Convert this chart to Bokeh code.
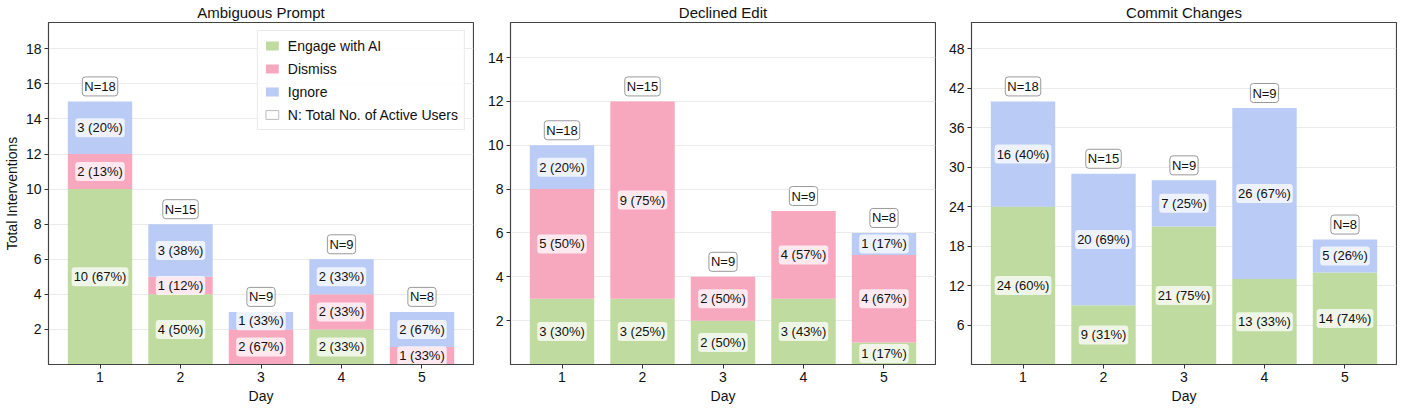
from bokeh.plotting import figure
from bokeh.layouts import row
from bokeh.models import ColumnDataSource, FixedTicker, Range1d
from bokeh.embed import file_html
from bokeh.resources import INLINE
from bokeh.core.properties import value

# ---------------- data ----------------
days = [1, 2, 3, 4, 5]
n_users = [18, 15, 9, 9, 8]

amb_engage = [10, 4, 0, 2, 0]
amb_dismiss = [2, 1, 2, 2, 1]
amb_ignore = [3, 3, 1, 2, 2]

dec_engage = [3, 3, 2, 3, 1]
dec_dismiss = [5, 9, 2, 4, 4]
dec_ignore = [2, 0, 0, 0, 1]

com_engage = [24, 9, 21, 13, 14]
com_dismiss = [0, 0, 0, 0, 0]
com_ignore = [16, 20, 7, 26, 5]

titles = ["Ambiguous Prompt", "Declined Edit", "Commit Changes"]
y_ticks_amb = [2, 4, 6, 8, 10, 12, 14, 16, 18]
y_ticks_dec = [2, 4, 6, 8, 10, 12, 14]
y_ticks_com = [6, 12, 18, 24, 30, 36, 42, 48]

series_names = ["Engage with AI", "Dismiss", "Ignore"]
n_legend = "N: Total No. of Active Users"

# ---------------- style ----------------
FONT = "Liberation Sans"
GREEN = "#bcd99a"
PINK = "#f7a3bc"
BLUE = "#b6c8f6"
COLORS = [GREEN, PINK, BLUE]
FW = 425
FH = 342


def make_panel(title, segs, ticks, left_border, first=False, legend=False):
    totals = [sum(v) for v in zip(*segs)]
    p = figure(frame_width=FW, frame_height=FH,
               x_range=Range1d(0.36, 5.64), y_range=Range1d(0, 1.3 * max(totals)),
               output_backend="svg", toolbar_location=None, title=title,
               min_border_left=left_border, min_border_right=1,
               min_border_top=0, min_border_bottom=0)
    p.title.align = "center"
    p.title.text_font = FONT
    p.title.text_font_size = "15px"
    p.title.text_font_style = "normal"
    p.title.text_color = "#111111"
    p.title.standoff = 3
    p.title.offset = 0

    p.xgrid.visible = False
    p.ygrid.grid_line_color = "#ebebeb"
    p.ygrid.grid_line_width = 1
    p.outline_line_color = "#444444"
    p.outline_line_width = 1.2
    p.outline_line_alpha = 1
    p.background_fill_color = "white"
    p.border_fill_color = "white"

    for ax in (p.xaxis[0], p.yaxis[0]):
        ax.axis_line_color = "#444444"
        ax.major_tick_line_color = "#333333"
        ax.major_tick_out = 4
        ax.major_tick_in = 0
        ax.minor_tick_line_color = None
        ax.major_label_text_font = FONT
        ax.major_label_text_font_size = "14px"
        ax.major_label_text_color = "#111111"
        ax.major_label_standoff = 3
        ax.axis_label_text_font = FONT
        ax.axis_label_text_font_size = "14px"
        ax.axis_label_text_font_style = "normal"
        ax.axis_label_text_color = "#111111"
        ax.axis_label_standoff = 3
    p.xaxis.ticker = FixedTicker(ticks=days)
    p.yaxis.ticker = FixedTicker(ticks=ticks)
    p.xaxis.axis_label = "Day"
    if first:
        p.yaxis.axis_label = "Total Interventions"

    bottoms = [0] * len(days)
    lab_x, lab_y, lab_t = [], [], []
    for vals, color, name in zip(segs, COLORS, series_names):
        tops = [b + v for b, v in zip(bottoms, vals)]
        kw = {"legend_label": name} if legend else {}
        if any(vals):
            p.vbar(x=days, bottom=bottoms, top=tops, width=0.8,
                   fill_color=color, fill_alpha=0.95, line_color=None, **kw)
        for d, b, v, t in zip(days, bottoms, vals, totals):
            if v > 0:
                lab_x.append(d)
                lab_y.append(b + v / 2)
                lab_t.append(f"{v} ({v / t * 100:.0f}%)")
        bottoms = tops

    if legend:
        # legend-only swatch placed below the visible range (clipped by frame)
        p.vbar(x=[days[0]], bottom=[-3], top=[-2], width=0.8, fill_color="white",
               line_color="#bbbbbb", line_width=1, legend_label=n_legend)

    src = ColumnDataSource(dict(x=lab_x, y=lab_y, t=lab_t))
    p.text(x="x", y="y", text="t", source=src, text_font=value(FONT),
           text_font_size="13px", text_color="#111111", text_align="center",
           text_baseline="middle", background_fill_color="white",
           background_fill_alpha=0.75, padding=2, border_radius=3)

    nsrc = ColumnDataSource(dict(x=days, y=totals, t=[f"N={n}" for n in n_users]))
    p.text(x="x", y="y", text="t", source=nsrc, text_font=value(FONT),
           text_font_size="13px", text_color="#111111", text_align="center",
           text_baseline="middle", y_offset=-15, background_fill_color="white",
           background_fill_alpha=1.0, border_line_color="#999999",
           border_line_width=1, padding=2, border_radius=3)

    if legend:
        lg = p.legend[0]
        lg.location = "top_right"
        lg.label_text_font = FONT
        lg.label_text_font_size = "14px"
        lg.label_text_color = "#111111"
        lg.border_line_color = "#d5d5d5"
        lg.border_line_width = 1
        lg.background_fill_alpha = 0.9
        lg.glyph_width = 16
        lg.glyph_height = 11
        lg.spacing = 6
        lg.padding = 6
        lg.margin = 8
        lg.label_height = 17
        lg.label_standoff = 8
    return p


p1 = make_panel(titles[0], [amb_engage, amb_dismiss, amb_ignore], y_ticks_amb, 40, first=True, legend=True)
p2 = make_panel(titles[1], [dec_engage, dec_dismiss, dec_ignore], y_ticks_dec, 36)
p3 = make_panel(titles[2], [com_engage, com_dismiss, com_ignore], y_ticks_com, 35)

layout = row(p1, p2, p3)
open("out.html", "w").write(file_html(layout, INLINE))
